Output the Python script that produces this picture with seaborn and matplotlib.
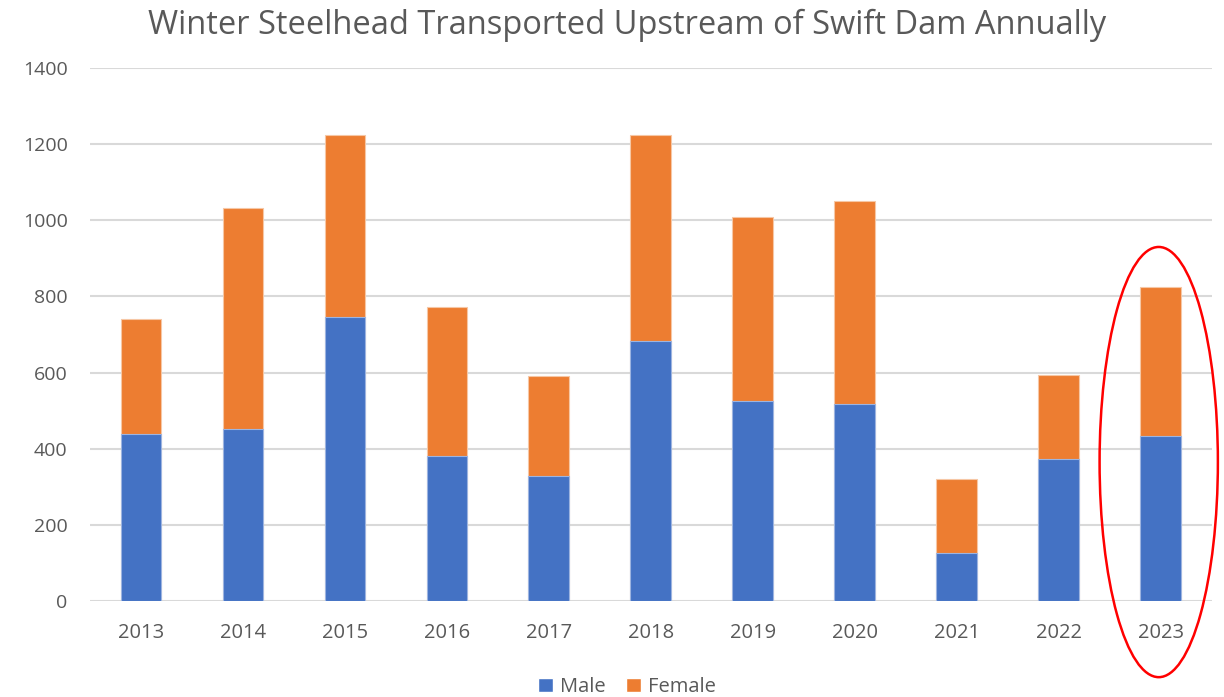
import matplotlib
matplotlib.use("Agg")
import matplotlib.pyplot as plt
import seaborn as sns
import pandas as pd
from matplotlib.patches import Ellipse, Patch

years = ["2013", "2014", "2015", "2016", "2017", "2018", "2019", "2020", "2021", "2022", "2023"]
male = [440, 451, 745, 382, 328, 684, 526, 517, 125, 373, 433]
female = [300, 582, 478, 389, 264, 541, 483, 535, 195, 220, 391]
title = "Winter Steelhead Transported Upstream of Swift Dam Annually"

BLUE = "#4472C4"
ORANGE = "#ED7D31"
GRAY = "#595959"

sns.set_theme(style="white")
plt.rcParams["font.family"] = ["Open Sans", "DejaVu Sans"]

df = pd.DataFrame({"Year": years, "Male": male, "Female": female})
df["Total"] = df["Male"] + df["Female"]

fig = plt.figure(figsize=(12.24, 6.97), dpi=100)
ax = fig.add_axes([0.0735, 0.1377, 0.9165, 0.7647])

sns.barplot(data=df, x="Year", y="Total", color=ORANGE, width=0.4, ax=ax,
            saturation=1, edgecolor="#F6C7A5", linewidth=0.8, zorder=3)
sns.barplot(data=df, x="Year", y="Male", color=BLUE, width=0.4, ax=ax,
            saturation=1, edgecolor="#9DB4E0", linewidth=0.8, zorder=4)

ax.set_ylim(0, 1400)
ax.set_xlim(-0.5, len(years) - 0.5)
ax.set_yticks(range(0, 1401, 200))
ax.yaxis.grid(True, color="#D9D9D9", linewidth=1.5, zorder=0)
ax.set_axisbelow(True)
for s in ax.spines.values():
    s.set_visible(False)
ax.set_xlabel("")
ax.set_ylabel("")
ax.tick_params(axis="y", length=0, pad=16, labelsize=14, labelcolor=GRAY)
ax.tick_params(axis="x", length=0, pad=16, labelsize=14.5, labelcolor=GRAY)

fig.suptitle(title, x=0.512, y=0.988, va="top", fontsize=23.5, color=GRAY)

# red ellipse annotation around 2023
ell = Ellipse((len(years) - 1 - 0.02, 365), width=1.16, height=1130,
              fill=False, edgecolor="#FF0000", linewidth=1.8, clip_on=False, zorder=6)
ax.add_patch(ell)

handles = [Patch(facecolor=BLUE, label="Male"), Patch(facecolor=ORANGE, label="Female")]
fig.legend(handles=handles, loc="lower center", bbox_to_anchor=(0.512, -0.026), ncol=2,
           frameon=False, fontsize=14.5, labelcolor=GRAY, handlelength=0.75, handleheight=0.75,
           handletextpad=0.35, columnspacing=1.0)

fig.savefig("out.png", dpi=100)
